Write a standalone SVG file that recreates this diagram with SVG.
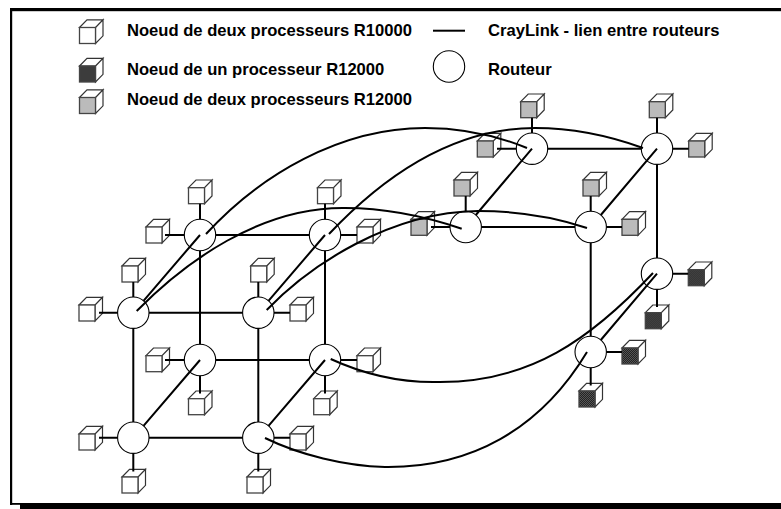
<svg xmlns="http://www.w3.org/2000/svg" width="781" height="509" viewBox="0 0 781 509">
<style>
.t{font-family:"Liberation Sans",Arial,sans-serif;font-weight:700;font-size:16.6px;fill:#000}
.r{fill:#fff;stroke:#000;stroke-width:1.1}
.c path,.c line{fill:none;stroke:#000;stroke-width:2}
.f{stroke:#444;stroke-width:1.3}
.s{fill:#fff;stroke:#333;stroke-width:1.2}
</style>
<defs>
<pattern id="d" width="2" height="2" patternUnits="userSpaceOnUse"><rect width="2" height="2" fill="#222"/><rect width="1" height="1" fill="#555"/><rect x="1" y="1" width="1" height="1" fill="#555"/></pattern>
<g id="w"><path class="s" d="M0 0L7.5-7.7H23.5L16 0ZM16 0L23.5-7.7V8.3L16 16Z"/><rect class="f" width="16" height="16" fill="#fff"/></g>
<g id="g"><path class="s" d="M0 0L7.5-7.7H23.5L16 0ZM16 0L23.5-7.7V8.3L16 16Z"/><rect class="f" width="16" height="16" fill="#bbb"/></g>
<g id="b"><path class="s" d="M0 0L7.5-7.7H23.5L16 0ZM16 0L23.5-7.7V8.3L16 16Z"/><rect class="f" width="16" height="16" fill="url(#d)"/></g>
</defs>
<rect width="781" height="509" fill="#fff"/>
<g id="frame" fill="#000">
<rect x="10" y="8" width="771" height="3.2"/>
<rect x="10" y="8" width="2.2" height="497"/>
<rect x="10" y="503" width="771" height="1.8"/>
<rect x="20" y="503.5" width="761" height="5.5"/>
</g>
<g id="legend">
<use href="#w" x="79.5" y="27.5"/>
<use href="#b" x="79.5" y="66"/>
<use href="#g" x="79.5" y="97.5"/>
<circle class="r" cx="449" cy="66.5" r="15.7"/>
<line x1="433" y1="30.7" x2="465" y2="30.7" stroke="#000" stroke-width="2"/>
<text class="t" x="127" y="36">Noeud de deux processeurs R10000</text>
<text class="t" x="127" y="75">Noeud de un processeur R12000</text>
<text class="t" x="127" y="104.5">Noeud de deux processeurs R12000</text>
<text class="t" x="488" y="36">CrayLink - lien entre routeurs</text>
<text class="t" x="488" y="75">Routeur</text>
</g>
<g id="n1"><circle class="r" cx="200" cy="235" r="15.7"/><use href="#w" x="188.5" y="187.7"/><use href="#w" x="146" y="227"/></g>
<g id="n2"><circle class="r" cx="325" cy="235" r="15.7"/><use href="#w" x="317.5" y="187.7"/><use href="#w" x="357" y="227"/></g>
<g id="n3"><circle class="r" cx="133.3" cy="312.7" r="15.7"/><use href="#w" x="122" y="266"/><use href="#w" x="79" y="305"/></g>
<g id="n4"><circle class="r" cx="258.3" cy="312.7" r="15.7"/><use href="#w" x="250.7" y="266"/><use href="#w" x="290" y="305"/></g>
<g id="n5"><circle class="r" cx="200" cy="360" r="15.7"/><use href="#w" x="146" y="355.7"/><use href="#w" x="188.5" y="398.7"/></g>
<g id="n6"><circle class="r" cx="325" cy="360" r="15.7"/><use href="#w" x="357" y="355.7"/><use href="#w" x="313.7" y="398.7"/></g>
<g id="n7"><circle class="r" cx="133.3" cy="437.7" r="15.7"/><use href="#w" x="79" y="434"/><use href="#w" x="122" y="477"/></g>
<g id="n8"><circle class="r" cx="258.3" cy="437.7" r="15.7"/><use href="#w" x="290" y="434"/><use href="#w" x="247" y="477"/></g>
<g id="n9"><circle class="r" cx="532" cy="148.7" r="15.7"/><use href="#g" x="520.7" y="101.7"/><use href="#g" x="477.3" y="141"/></g>
<g id="n10"><circle class="r" cx="657" cy="148.7" r="15.7"/><use href="#g" x="649.3" y="101.7"/><use href="#g" x="688.7" y="141"/></g>
<g id="n11"><circle class="r" cx="465.7" cy="227" r="15.7"/><use href="#g" x="454" y="180"/><use href="#g" x="411" y="219.3"/></g>
<g id="n12"><circle class="r" cx="590.7" cy="227" r="15.7"/><use href="#g" x="583" y="180"/><use href="#g" x="622" y="219.3"/></g>
<g id="n13"><circle class="r" cx="657" cy="273.7" r="15.7"/><use href="#b" x="688.3" y="269.7"/><use href="#b" x="645.3" y="312.7"/></g>
<g id="n14"><circle class="r" cx="590.7" cy="352" r="15.7"/><use href="#b" x="622" y="348"/><use href="#b" x="579" y="391"/></g>
<g id="connectors" class="c">
<path d="M215.7 235H309.3M215.7 360H309.3M149 312.7H242.6M149 437.7H242.6M481.4 227H575M547.7 148.7H641.3"/>
<path d="M133.3 328.4V422M258.3 328.4V422M200 250.7V344.3M325 250.7V344.3M657 164.4V258M590.7 242.7V336.3"/>
<path d="M143.5 300.8L200 235M268.5 300.8L325 235M143.5 425.8L200 360M268.5 425.8L325 360M475.8 215L532 148.7M600.8 215L657 148.7M600.8 340L657 273.7"/>
<path d="M200 203.7V219.3M165 235H184.3M325 203.7V219.3M340.7 235H357M133.3 282V297M99 312.7H117.6M258.3 282V297M274 312.7H290"/>
<path d="M165 360H184.3M200 375.7V393.5M340.7 360H357M325 375.7V393.5M99 437.7H117.6M133.3 453.4V471.5M274 437.7H290M258.3 453.4V471.5"/>
<path d="M532 117.7V133M497 148.7H516.3M657 117.7V133M672.7 148.7H688.7M465.7 196V211.3M431 227H450M590.7 196V211.3M606.4 227H622"/>
<path d="M672.7 273.7H688.3M657 289.4V307M606.4 352H622M590.7 367.7V385.5"/>
<path d="M136.7 311C185 262 260 207 345 208C390 208 430 218 461.7 228.7"/>
<path d="M266.7 310C310 265 390 212 478 211C520 211 555 217 587 228"/>
<path d="M206 234C260 175 340 128 425 128C465 128 500 137 527 148"/>
<path d="M329 234C380 180 450 128 535 128C575 128 610 136 643 148"/>
<path d="M330.7 359C370 377 405 383 440 382C530 382 590 340 653 273"/>
<path d="M265 438C300 455 345 466 385 467C470 468 540 430 587 352"/>
</g>
</svg>
